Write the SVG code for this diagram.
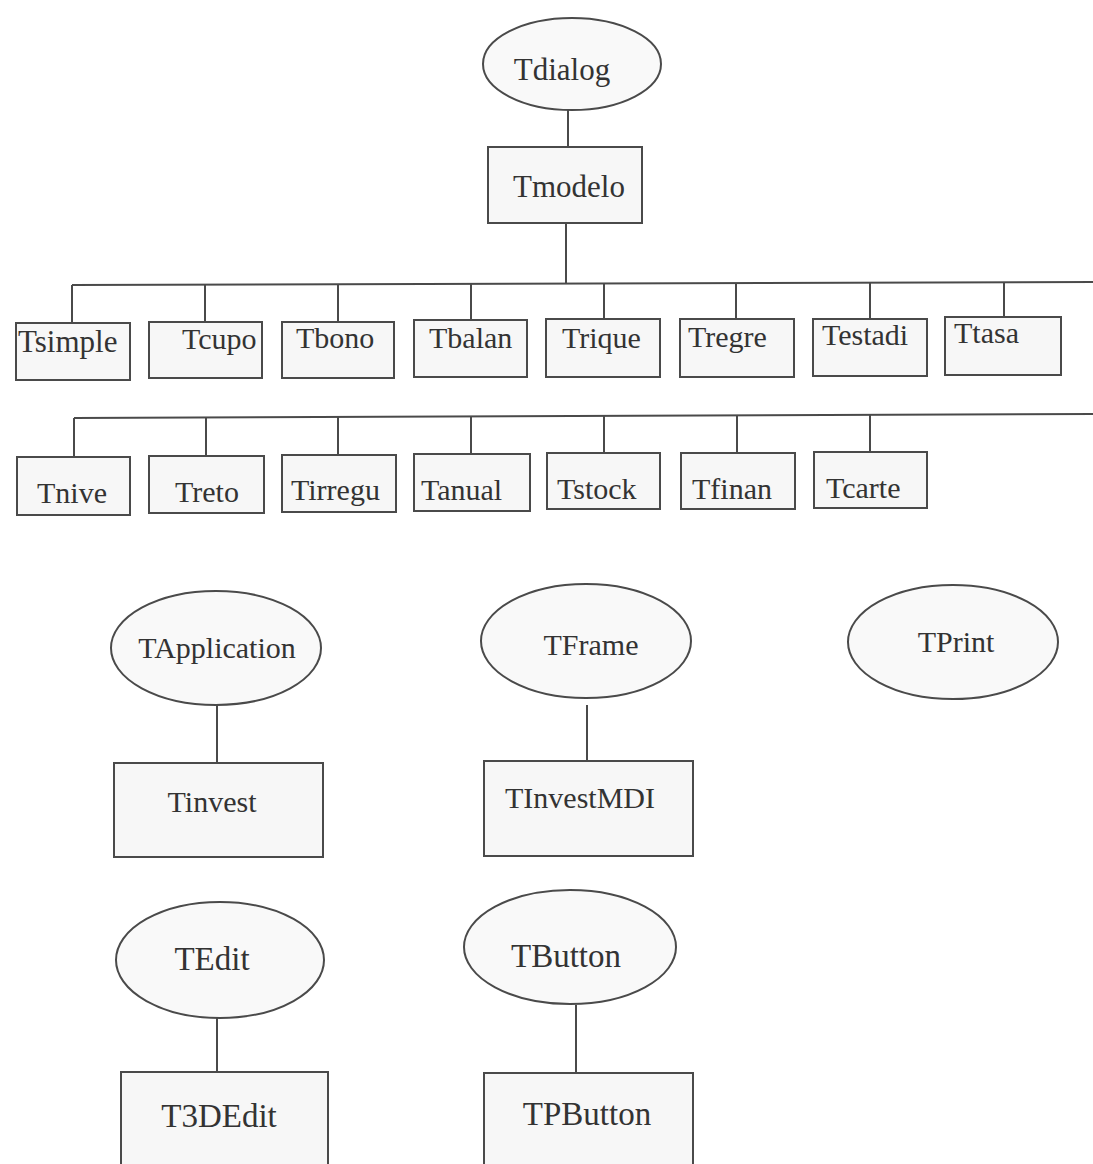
<svg xmlns="http://www.w3.org/2000/svg" width="1093" height="1164" viewBox="0 0 1093 1164">
<style>
.bg{fill:#ffffff}
.box{fill:#f7f7f7;stroke:#4a4a4a;stroke-width:2}
.ell{fill:#f9f9f9;stroke:#4a4a4a;stroke-width:2}
.ln{fill:none;stroke:#4a4a4a;stroke-width:2}
text{font-family:"Liberation Serif","Times New Roman",serif;font-size:30px;fill:#333333}
.m{text-anchor:middle}
.b{font-size:33px}
</style>
<rect class="bg" x="0" y="0" width="1093" height="1164"/>
<g id="connectors">
<path class="ln" d="M568 110 V147"/>
<path class="ln" d="M566 223 V283"/>
<path class="ln" d="M72 285 L1093 282"/>
<path class="ln" d="M72 285 V323 M205 285 V322 M338 284 V322 M471 284 V320 M604 283 V319 M736 283 V319 M870 283 V319 M1004 282 V317"/>
<path class="ln" d="M74 418 L1093 414"/>
<path class="ln" d="M74 418 V457 M206 418 V456 M338 417 V455 M471 417 V454 M604 416 V453 M737 415 V453 M870 415 V452"/>
<path class="ln" d="M217 705 V763"/>
<path class="ln" d="M587 705 V761"/>
<path class="ln" d="M217 1017 V1072"/>
<path class="ln" d="M576 1005 V1073"/>
</g>
<g id="Tdialog"><ellipse class="ell" cx="572" cy="64" rx="89" ry="46"/><text class="m" x="562" y="80" style="font-size:31px">Tdialog</text></g>
<g id="Tmodelo"><rect class="box" x="488" y="147" width="154" height="76"/><text class="m" x="569" y="197" style="font-size:31px">Tmodelo</text></g>
<g id="Tsimple"><rect class="box" x="16" y="323" width="114" height="57"/><text x="18" y="352" style="font-size:31px">Tsimple</text></g>
<g id="Tcupo"><rect class="box" x="149" y="322" width="113" height="56"/><text x="182" y="349">Tcupo</text></g>
<g id="Tbono"><rect class="box" x="282" y="322" width="112" height="56"/><text x="296" y="348">Tbono</text></g>
<g id="Tbalan"><rect class="box" x="414" y="320" width="113" height="57"/><text x="429" y="348">Tbalan</text></g>
<g id="Trique"><rect class="box" x="546" y="319" width="114" height="58"/><text x="562" y="348">Trique</text></g>
<g id="Tregre"><rect class="box" x="680" y="319" width="114" height="58"/><text x="688" y="347">Tregre</text></g>
<g id="Testadi"><rect class="box" x="813" y="319" width="114" height="57"/><text x="822" y="345">Testadi</text></g>
<g id="Ttasa"><rect class="box" x="945" y="317" width="116" height="58"/><text x="954" y="343">Ttasa</text></g>
<g id="Tnive"><rect class="box" x="17" y="457" width="113" height="58"/><text x="37" y="503">Tnive</text></g>
<g id="Treto"><rect class="box" x="149" y="456" width="115" height="57"/><text x="175" y="502">Treto</text></g>
<g id="Tirregu"><rect class="box" x="282" y="455" width="114" height="57"/><text x="291" y="500">Tirregu</text></g>
<g id="Tanual"><rect class="box" x="414" y="454" width="116" height="57"/><text x="421" y="500">Tanual</text></g>
<g id="Tstock"><rect class="box" x="547" y="453" width="113" height="56"/><text x="557" y="499">Tstock</text></g>
<g id="Tfinan"><rect class="box" x="681" y="453" width="114" height="56"/><text x="692" y="499">Tfinan</text></g>
<g id="Tcarte"><rect class="box" x="814" y="452" width="113" height="56"/><text x="826" y="498">Tcarte</text></g>
<g id="TApplication"><ellipse class="ell" cx="216" cy="648" rx="105" ry="57"/><text class="m" x="217" y="658">TApplication</text></g>
<g id="Tinvest"><rect class="box" x="114" y="763" width="209" height="94"/><text class="m" x="212" y="812">Tinvest</text></g>
<g id="TFrame"><ellipse class="ell" cx="586" cy="641" rx="105" ry="57"/><text class="m" x="591" y="655">TFrame</text></g>
<g id="TInvestMDI"><rect class="box" x="484" y="761" width="209" height="95"/><text class="m" x="580" y="808">TInvestMDI</text></g>
<g id="TPrint"><ellipse class="ell" cx="953" cy="642" rx="105" ry="57"/><text class="m" x="956" y="652">TPrint</text></g>
<g id="TEdit"><ellipse class="ell" cx="220" cy="960" rx="104" ry="58"/><text class="m b" x="212" y="970">TEdit</text></g>
<g id="T3DEdit"><rect class="box" x="121" y="1072" width="207" height="110"/><text class="m b" x="219" y="1127">T3DEdit</text></g>
<g id="TButton"><ellipse class="ell" cx="570" cy="947" rx="106" ry="57"/><text class="m b" x="566" y="967">TButton</text></g>
<g id="TPButton"><rect class="box" x="484" y="1073" width="209" height="110"/><text class="m b" x="587" y="1125">TPButton</text></g>
</svg>
